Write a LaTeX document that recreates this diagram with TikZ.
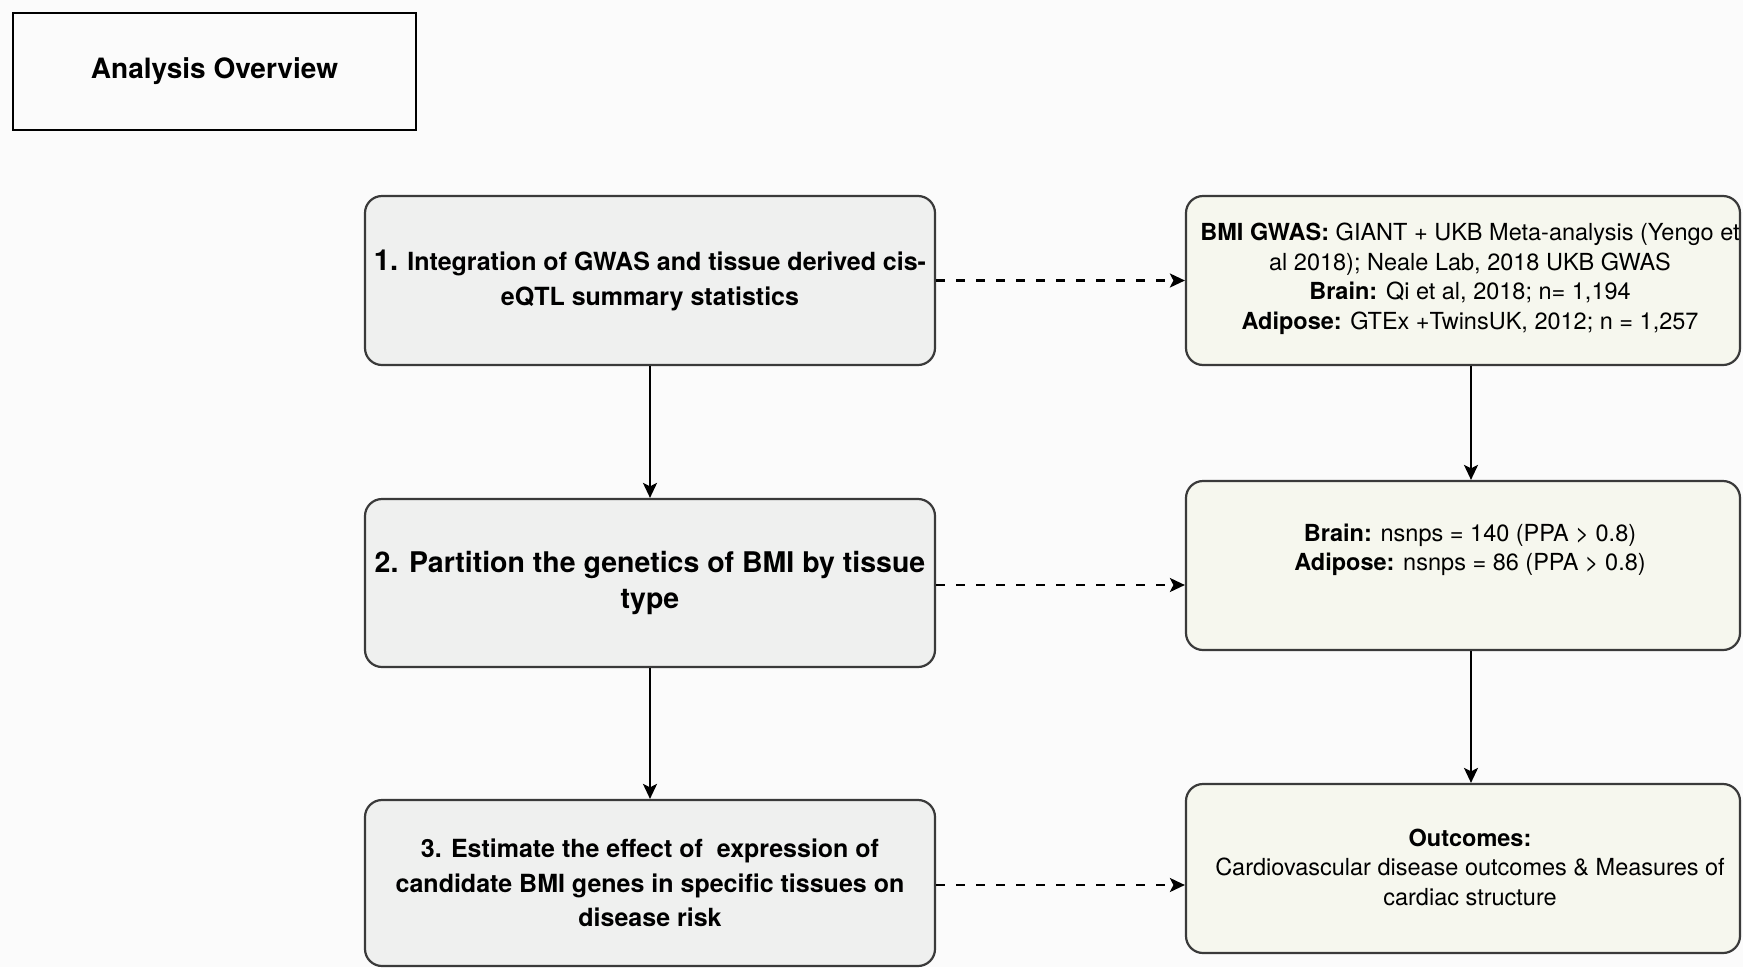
\documentclass[tikz,border=0pt]{standalone}
\usepackage{fontspec}
\setmainfont{TeX Gyre Heros}
\usetikzlibrary{arrows.meta}
\definecolor{bg}{RGB}{251,251,251}
\definecolor{lfill}{RGB}{239,240,239}
\definecolor{rfill}{RGB}{246,247,238}
\definecolor{edge}{RGB}{58,58,58}
\begin{document}
\begin{tikzpicture}[x=1pt,y=-1pt,
  titlebox/.style={draw=black,line width=1.4pt,fill=bg,minimum width=403pt,minimum height=117pt,inner sep=0pt,
    font=\fontsize{28}{34}\selectfont\bfseries},
  lbox/.style={draw=edge,line width=2.2pt,fill=lfill,rounded corners=17pt,minimum width=570pt,inner sep=0pt,align=center,
    font=\fontsize{25}{34.5}\selectfont\bfseries},
  rbox/.style={draw=edge,line width=2.2pt,fill=rfill,rounded corners=17pt,minimum width=554pt,minimum height=169pt,inner sep=0pt},
  rtext/.style={inner sep=0pt,align=center,font=\fontsize{23.5}{29.5}\selectfont},
  flow/.style={line width=2.4pt,-{Stealth[length=15pt,width=14pt,inset=3.5pt]}},
  dflow/.style={line width=2.4pt,dash pattern=on 9pt off 11pt,-{Stealth[length=15pt,width=14pt,inset=3.5pt]}}
]
\fill[bg] (0,0) rectangle (1743,967);
\useasboundingbox (0,0) rectangle (1743,967);

\node[titlebox] (title) at (214.5,71.5) {Analysis Overview};

\node[lbox,minimum height=169pt] (b1) at (650,280.5)
  {{\fontsize{29}{34.5}\selectfont 1.} Integration of GWAS and tissue derived cis-\\eQTL summary statistics};
\node[lbox,minimum height=168pt,font=\fontsize{28.5}{35.5}\selectfont\bfseries] (b2) at (650,583)
  {2. Partition the genetics of BMI by tissue\\type};
\node[lbox,minimum height=166pt] (b3) at (650,883)
  {3. Estimate the effect of\ \ expression of\\candidate BMI genes in specific tissues on\\disease risk};

\node[rbox] (r1) at (1463,280.5) {};
\node[rbox] (r2) at (1463,565.5) {};
\node[rbox] (r3) at (1463,868.5) {};

\node[rtext] (r1t) at (1470,279)
  {\textbf{BMI GWAS:} GIANT + UKB Meta-analysis (Yengo et\\al 2018); Neale Lab, 2018 UKB GWAS\\\textbf{Brain:} Qi et al, 2018; n= 1,194\\\textbf{Adipose:} GTEx +TwinsUK, 2012; n = 1,257};
\node[rtext] (r2t) at (1470,550)
  {\textbf{Brain:} nsnps = 140 (PPA > 0.8)\\\textbf{Adipose:} nsnps = 86 (PPA > 0.8)};
\node[rtext] (r3t) at (1470,867)
  {\textbf{Outcomes:}\\Cardiovascular disease outcomes \& Measures of\\cardiac structure};

\coordinate (rax) at (1471,0);

\draw[flow] (b1.south) -- (b2.north);
\draw[flow] (b2.south) -- (b3.north);
\draw[flow] (r1.south -| rax) -- (r2.north -| rax);
\draw[flow] (r2.south -| rax) -- (r3.north -| rax);

\draw[dflow] (b1.east) -- (b1.east -| r1.west);
\draw[dflow] ([yshift=-2pt]b2.east) -- ([yshift=-2pt]b2.east -| r2.west);
\draw[dflow] ([yshift=-2pt]b3.east) -- ([yshift=-2pt]b3.east -| r3.west);
\end{tikzpicture}
\end{document}
